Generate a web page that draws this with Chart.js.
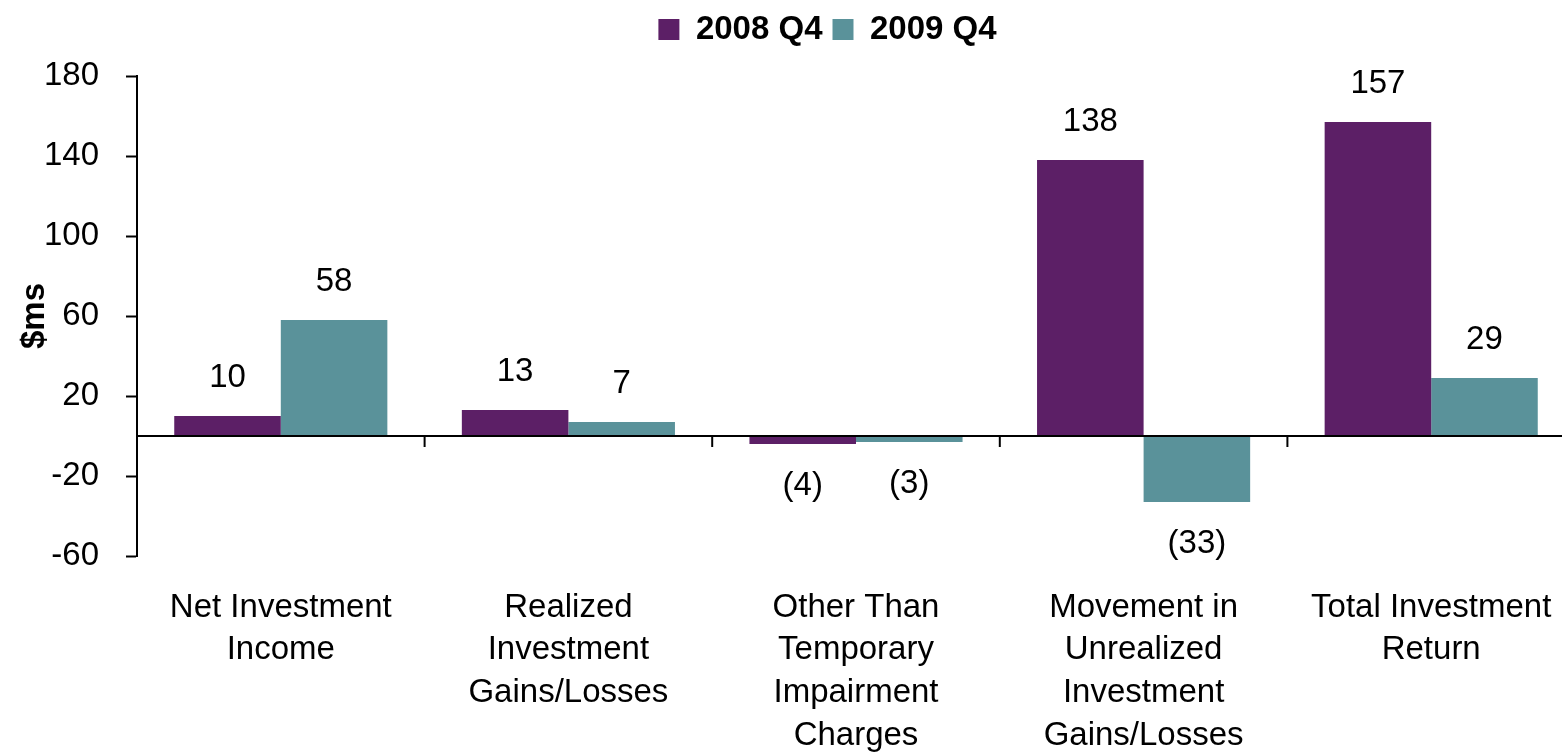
<!DOCTYPE html>
<html>
<head>
<meta charset="utf-8">
<script src="https://cdn.jsdelivr.net/npm/chart.js@4/dist/chart.umd.min.js"></script>
<style>
  html, body { margin: 0; padding: 0; background: #fff; overflow: hidden; }
  /* plot runs a little past the right edge, like the original */
  #wrap { width: 1575px; height: 756px; }
</style>
</head>
<body>
<div id="wrap"><canvas id="myChart"></canvas></div>
<script>
const categories = [
  ["Net Investment", "Income"],
  ["Realized", "Investment", "Gains/Losses"],
  ["Other Than", "Temporary", "Impairment", "Charges"],
  ["Movement in", "Unrealized", "Investment", "Gains/Losses"],
  ["Total Investment", "Return"],
];
const q4_2008 = [10, 13, -4, 138, 157];
const q4_2009 = [58, 7, -3, -33, 29];
const yTicks = [-60, -20, 20, 60, 100, 140, 180];

const FONT = "'Liberation Sans', Arial, sans-serif";

// push the plot down a bit under the legend, and nudge the legend right
const legendGap = {
  id: "legendGap",
  beforeInit(chart) {
    const fit = chart.legend.fit;
    chart.legend.fit = function () {
      fit.bind(chart.legend)();
      this.height += 20;
    };
  },
  afterLayout(chart) {
    chart.legend.left += 80;
  },
};

// zero line plus the little tick marks between categories
const zeroAxis = {
  id: "zeroAxis",
  afterDatasetsDraw(chart) {
    const { ctx, chartArea, scales } = chart;
    const y0 = scales.y.getPixelForValue(0);
    ctx.save();
    ctx.strokeStyle = "#000";
    ctx.lineWidth = 2;
    ctx.beginPath();
    ctx.moveTo(chartArea.left, y0);
    ctx.lineTo(chartArea.right, y0);
    ctx.stroke();
    const n = categories.length;
    for (let i = 1; i < n; i++) {
      const x = (scales.x.getPixelForValue(i - 1) + scales.x.getPixelForValue(i)) / 2;
      ctx.beginPath();
      ctx.moveTo(x, y0);
      ctx.lineTo(x, y0 + 11);
      ctx.stroke();
    }
    ctx.restore();
  },
};

const valueLabels = {
  id: "valueLabels",
  afterDatasetsDraw(chart) {
    const { ctx } = chart;
    ctx.save();
    ctx.font = "33px " + FONT;
    ctx.fillStyle = "#000";
    ctx.textAlign = "center";
    ctx.textBaseline = "middle";
    chart.data.datasets.forEach((ds, di) => {
      chart.getDatasetMeta(di).data.forEach((bar, i) => {
        const v = ds.data[i];
        const txt = v < 0 ? "(" + Math.abs(v) + ")" : String(v);
        const y = v < 0 ? bar.y + 42 : bar.y - 38;
        ctx.fillText(txt, bar.x, y);
      });
    });
    ctx.restore();
  },
};

const ctx = document.getElementById("myChart").getContext("2d");
const myChart = new Chart(ctx, {
  type: "bar",
  data: {
    labels: categories,
    datasets: [
      {
        label: "2008 Q4",
        backgroundColor: "#5C1F66",
        data: q4_2008,
      },
      {
        label: "2009 Q4",
        backgroundColor: "#5A929A",
        data: q4_2009,
      },
    ],
  },
  options: {
    responsive: true,
    maintainAspectRatio: false,
    animation: false,
    categoryPercentage: 0.741,
    barPercentage: 1,
    layout: { padding: { left: 0, right: 0, top: 3, bottom: 0 } },
    plugins: {
      tooltip: { enabled: false },
      legend: {
        position: "top",
        labels: {
          boxWidth: 21,
          boxHeight: 21,
          color: "#000",
          padding: 10,
          font: { family: FONT, size: 33, weight: "bold" },
        },
      },
    },
    scales: {
      x: {
        grid: { display: false, drawTicks: false },
        border: { display: false },
        afterFit: (scale) => {
          scale.height = 200;
          scale.paddingLeft = 0;
          scale.paddingRight = 0;
        },
        ticks: {
          color: "#000",
          padding: 30,
          maxRotation: 0,
          autoSkip: false,
          font: { family: FONT, size: 33, lineHeight: 1.3 },
        },
      },
      y: {
        min: -60,
        max: 180,
        afterBuildTicks: (axis) => {
          axis.ticks = yTicks.map((v) => ({ value: v }));
        },
        afterFit: (scale) => {
          scale.width = 137;
        },
        grid: {
          drawOnChartArea: false,
          drawTicks: true,
          tickLength: 11,
          tickWidth: 2,
          color: "#000",
        },
        border: { color: "#000", width: 2 },
        ticks: {
          color: "#000",
          padding: 27,
          font: { family: FONT, size: 33 },
        },
        title: {
          display: true,
          text: "$ms",
          color: "#000",
          padding: { top: 15, bottom: 0 },
          font: { family: FONT, size: 33, weight: "bold" },
        },
      },
    },
  },
  plugins: [legendGap, zeroAxis, valueLabels],
});
</script>
</body>
</html>
